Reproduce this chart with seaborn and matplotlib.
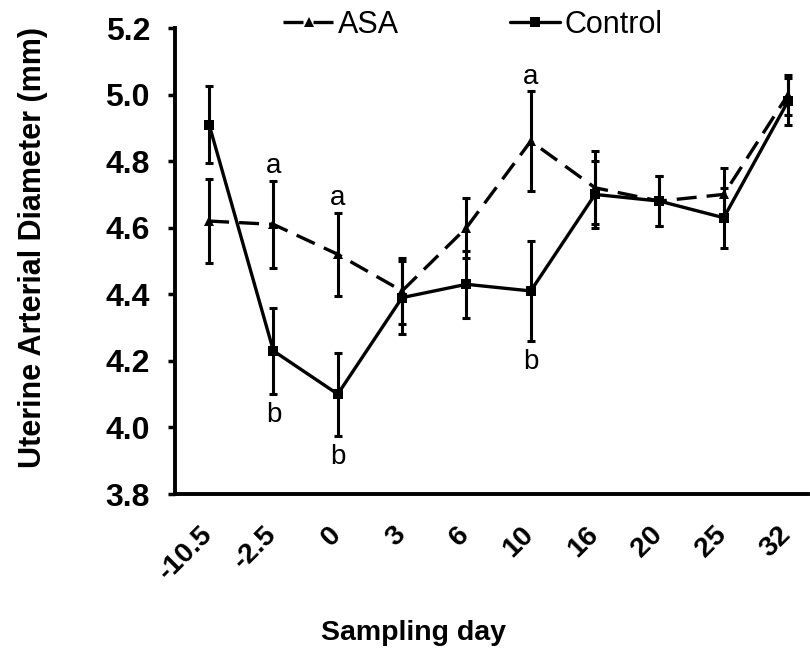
import numpy as np
import pandas as pd
import matplotlib
matplotlib.use("Agg")
import matplotlib.pyplot as plt
import matplotlib.transforms as mtransforms
import seaborn as sns

# ---- data ----
days = ["-10.5", "-2.5", "0", "3", "6", "10", "16", "20", "25", "32"]
asa_mean = [4.62, 4.61, 4.52, 4.41, 4.60, 4.86, 4.72, 4.68, 4.70, 5.00]
asa_err = [0.125, 0.13, 0.125, 0.10, 0.09, 0.15, 0.11, 0.075, 0.08, 0.06]
ctrl_mean = [4.91, 4.23, 4.10, 4.39, 4.43, 4.41, 4.70, 4.68, 4.63, 4.98]
ctrl_err = [0.115, 0.13, 0.125, 0.11, 0.10, 0.15, 0.10, 0.075, 0.09, 0.07]
letters_a = {"-2.5": "a", "0": "a", "10": "a"}
letters_b = {"-2.5": "b", "0": "b", "10": "b"}

sns.set_style("white")
plt.rcParams['font.family'] = ['Liberation Sans', 'DejaVu Sans']
for k in ["text.color", "axes.labelcolor", "xtick.color", "ytick.color"]:
    plt.rcParams[k] = "black"

pos = np.arange(len(days))
df = pd.DataFrame({
    "pos": np.concatenate([pos, pos]),
    "mean": asa_mean + ctrl_mean,
    "group": ["ASA"] * len(days) + ["Control"] * len(days),
})

fig = plt.figure(figsize=(8.1, 6.54), dpi=100)
ax = fig.add_axes([175 / 810, (654 - 494) / 654, (808 - 175) / 810, (494 - 28) / 654])

sns.lineplot(data=df, x="pos", y="mean", hue="group", style="group",
             palette={"ASA": "black", "Control": "black"},
             dashes={"ASA": (6, 3), "Control": ""},
             markers={"ASA": "^", "Control": "s"},
             markersize=7, markeredgewidth=0, linewidth=2.4, ax=ax, legend=True)

ax.errorbar(pos, asa_mean, yerr=asa_err, fmt="none", ecolor="black",
            elinewidth=2.2, capsize=3, capthick=2.2)
ax.errorbar(pos, ctrl_mean, yerr=ctrl_err, fmt="none", ecolor="black",
            elinewidth=2.2, capsize=3, capthick=2.2)

for i, d in enumerate(days):
    if d in letters_a:
        ax.text(i, asa_mean[i] + asa_err[i] + 0.005, letters_a[d], ha="center",
                va="bottom", fontsize=20)
    if d in letters_b:
        ax.text(i, ctrl_mean[i] - ctrl_err[i] - 0.025, letters_b[d], ha="center",
                va="top", fontsize=20)

ax.set_xlim(-0.53, len(days) - 0.69)
ax.set_ylim(3.8, 5.2)
yt = np.arange(3.8, 5.21, 0.2)
ax.set_yticks(yt)
ax.set_yticklabels([f"{v:.1f}" for v in yt], fontweight="bold")
ax.set_xticks(pos)
ax.set_xticklabels(days, rotation=45, ha="right", rotation_mode="anchor",
                   fontweight="bold")
ax.tick_params(axis="y", direction="out", length=5, width=2.5, left=True,
               labelsize=23, pad=13)
ax.tick_params(axis="x", length=0, labelsize=20.5, pad=16)
# nudge rotated labels so their top-right corner sits by the tick
shift = mtransforms.ScaledTranslation(-0.10, -0.05, fig.dpi_scale_trans)
for lab in ax.get_xticklabels():
    lab.set_transform(lab.get_transform() + shift)

sns.despine(ax=ax)
for s in ["left", "bottom"]:
    ax.spines[s].set_linewidth(2.8)
    ax.spines[s].set_color("black")

ax.set_xlabel("Sampling day", fontsize=20.5, fontweight="bold")
ax.xaxis.set_label_coords((414 - 175) / 633, (494 - 620) / 466)
ax.set_ylabel("Uterine Arterial Diameter (mm)", fontsize=22, fontweight="bold")
ax.yaxis.set_label_coords((48 - 175) / 633, (494 - 247) / 466)

handles, labels = ax.get_legend_handles_labels()
ax.get_legend().remove()
fig.legend(handles, labels, loc="center", bbox_to_anchor=(473 / 810, 1 - 25 / 654),
           ncol=2, frameon=False, handlelength=1.65, handletextpad=0.15,
           columnspacing=3.6, borderpad=0, prop={"size": 22})

fig.savefig("out.png", dpi=100)
